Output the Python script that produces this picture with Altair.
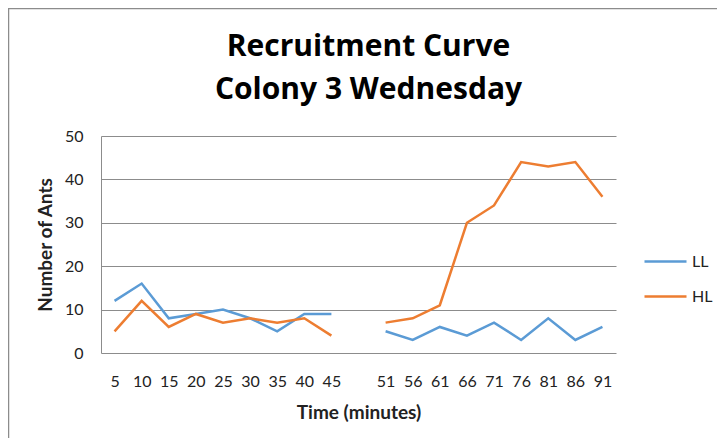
import altair as alt
import pandas as pd

# ---- data ----
times_a = ["5", "10", "15", "20", "25", "30", "35", "40", "45"]
times_b = ["51", "56", "61", "66", "71", "76", "81", "86", "91"]
ll_a = [12, 16, 8, 9, 10, 8, 5, 9, 9]
hl_a = [5, 12, 6, 9, 7, 8, 7, 8, 4]
ll_b = [5, 3, 6, 4, 7, 3, 8, 3, 6]
hl_b = [7, 8, 11, 30, 34, 44, 43, 44, 36]
series_names = ["LL", "HL"]
series_colors = ["#5B9BD5", "#ED7D31"]
x_domain = times_a + [" "] + times_b

rows = []
for seg, times, ll, hl in [("a", times_a, ll_a, hl_a), ("b", times_b, ll_b, hl_b)]:
    for t, v in zip(times, ll):
        rows.append({"time": t, "series": "LL", "value": v, "seg": seg})
    for t, v in zip(times, hl):
        rows.append({"time": t, "series": "HL", "value": v, "seg": seg})
df = pd.DataFrame(rows)

FONT = "Lato"
TFONT = "Open Sans"
GRID = "#8c8c8c"

lines = alt.Chart(df).mark_line(strokeWidth=2.5).encode(
    x=alt.X("time:N", sort=x_domain,
            scale=alt.Scale(type="point", domain=x_domain, padding=0.5),
            axis=alt.Axis(title="Time (minutes)", labelAngle=0, ticks=False, domain=False,
                          labelPadding=20, titlePadding=14, labelFontSize=16,
                          titleFontSize=19, titleFontWeight="bold", labelColor="#222",
                          titleColor="#222")),
    y=alt.Y("value:Q", scale=alt.Scale(domain=[0, 50], nice=False),
            axis=alt.Axis(title="Number of Ants", values=[0, 10, 20, 30, 40, 50],
                          ticks=False, domain=True, domainColor=GRID, gridColor=GRID,
                          gridWidth=1, labelPadding=18, titlePadding=9,
                          labelFontSize=16, titleFontSize=19, titleFontWeight="bold",
                          labelColor="#222", titleColor="#222")),
    color=alt.Color("series:N",
                    scale=alt.Scale(domain=series_names, range=series_colors),
                    legend=alt.Legend(title=None, orient="none", legendX=542, legendY=103,
                                      symbolType="stroke", symbolSize=1764,
                                      symbolStrokeWidth=2.5, labelFontSize=16,
                                      labelColor="#222", labelOffset=4, rowPadding=4,
                                      padding=0)),
    detail="seg:N",
)

border = alt.Chart(alt.Data(values=[{}])).mark_rect(
    fill=None, stroke="#8c8c8c", strokeWidth=2.5
).encode(
    x=alt.value(-93), y=alt.value(-128), x2=alt.value(700), y2=alt.value(400)
)

chart = alt.layer(border, lines).properties(
    width=515, height=217,
    title=alt.TitleParams(["Recruitment Curve", "Colony 3 Wednesday"], fontSize=30,
                          font=TFONT, fontWeight="bold", color="#000", lineHeight=43,
                          anchor="middle", frame="group", offset=0, dy=98, dx=10),
    autosize=alt.AutoSizeParams(type="none"),
    padding={"left": 93, "top": 128, "right": 101, "bottom": 85},
).configure(font=FONT).configure_view(stroke=None).configure_axis(labelFont=FONT, titleFont=FONT)

chart.save("out.html", embed_options={"renderer": "svg", "actions": False})
